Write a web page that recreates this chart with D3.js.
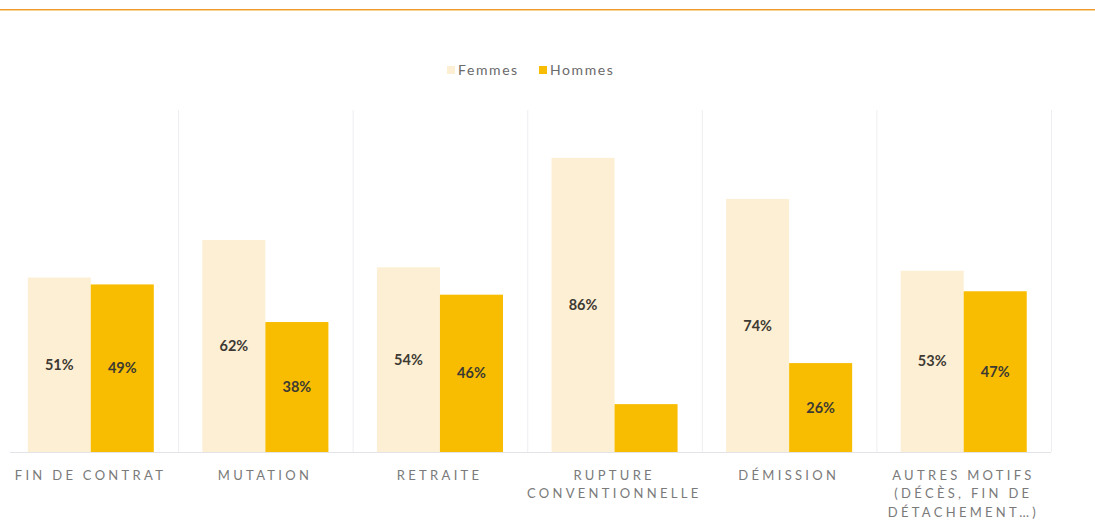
<!DOCTYPE html>
<html>
<head>
<meta charset="utf-8">
<script src="https://cdn.jsdelivr.net/npm/d3@7"></script>
<style>
  html, body { margin: 0; padding: 0; background: #fff; }
  svg { display: block; }
  text { font-family: Lato, "Open Sans", sans-serif; }
</style>
</head>
<body>
<svg id="chart" width="1095" height="521"></svg>
<script>
// Motifs de départ, répartition femmes / hommes (%)
const categories = [
  ["FIN DE CONTRAT"],
  ["MUTATION"],
  ["RETRAITE"],
  ["RUPTURE", "CONVENTIONNELLE"],
  ["DÉMISSION"],
  ["AUTRES MOTIFS", "(DÉCÈS, FIN DE", "DÉTACHEMENT…)"]
];
const seriesNames = ["Femmes", "Hommes"];
const femmes = [51, 62, 54, 86, 74, 53];
const hommes = [49, 38, 46, 14, 26, 47];
// the small share is left without a label
const hommesLabelled = [true, true, true, false, true, true];

const colors = { Femmes: "#FDEFD3", Hommes: "#F8BD00" };

const svg = d3.select("#chart");
const W = 1095, H = 521;
const plotLeft = 3.5, plotRight = 1051, plotTop = 110, plotBottom = 452;

// top rule
svg.append("rect").attr("x", 0).attr("y", 9).attr("width", W).attr("height", 1).attr("fill", "#EE9A2A");
svg.append("rect").attr("x", 0).attr("y", 10).attr("width", W).attr("height", 1).attr("fill", "#FAD596");

const keys = categories.map((c, i) => i);
const x = d3.scaleBand().domain(keys).range([plotLeft, plotRight]).paddingInner(0).paddingOuter(0);
const xs = d3.scaleBand().domain(seriesNames).range([0, x.bandwidth()]).paddingInner(0).paddingOuter(0.385);
const y = d3.scaleLinear().domain([0, 100]).range([plotBottom, plotTop]);

// vertical separators between categories
svg.append("g").selectAll("line")
  .data(keys.slice(1).concat([keys.length]))
  .join("line")
  .attr("x1", d => plotLeft + d * x.bandwidth() + 0.5)
  .attr("x2", d => plotLeft + d * x.bandwidth() + 0.5)
  .attr("y1", y(100)).attr("y2", plotBottom)
  .attr("stroke", "#EEEEF2").attr("stroke-width", 1);

const rows = keys.map(i => ({ i, values: [
  { s: "Femmes", v: femmes[i], show: true },
  { s: "Hommes", v: hommes[i], show: hommesLabelled[i] }
]}));

const groups = svg.append("g").selectAll("g")
  .data(rows).join("g")
  .attr("transform", d => `translate(${x(d.i)},0)`);

groups.selectAll("rect")
  .data(d => d.values).join("rect")
  .attr("x", d => xs(d.s))
  .attr("width", xs.bandwidth())
  .attr("y", d => y(d.v))
  .attr("height", d => plotBottom - y(d.v))
  .attr("fill", d => colors[d.s]);

groups.selectAll("text.val")
  .data(d => d.values.filter(v => v.show)).join("text")
  .attr("class", "val")
  .attr("x", d => xs(d.s) + xs.bandwidth() / 2)
  .attr("y", d => (y(d.v) + plotBottom) / 2)
  .attr("dy", "0.35em")
  .attr("text-anchor", "middle")
  .attr("font-size", 14.5)
  .attr("font-weight", 700)
  .attr("fill", "#3d3a33")
  .text(d => d.v + "%");

// baseline
svg.append("line")
  .attr("x1", 10).attr("x2", plotRight)
  .attr("y1", plotBottom + 0.5).attr("y2", plotBottom + 0.5)
  .attr("stroke", "#E4E4E8").attr("stroke-width", 1);

// category labels
const catSpacing = 3.3;
const xAxis = d3.axisBottom(x).tickSize(0).tickFormat("");
const axisG = svg.append("g").attr("transform", `translate(0,${plotBottom})`).call(xAxis);
axisG.select(".domain").remove();
axisG.selectAll(".tick").each(function(d) {
  const t = d3.select(this).append("text")
    .attr("text-anchor", "middle")
    .attr("fill", "#7a7a7a")
    .attr("font-size", 13)
    .attr("letter-spacing", catSpacing + "px")
    .attr("font-family", "Lato, 'Open Sans', sans-serif");
  categories[d].forEach((line, k) => {
    t.append("tspan").attr("x", catSpacing / 2 - 2).attr("y", 27.5 + k * 18.5).text(line);
  });
});

// legend
const legend = svg.append("g").attr("transform", "translate(447,70)");
const lx = [0, 92];
seriesNames.forEach((s, k) => {
  const g = legend.append("g").attr("transform", `translate(${lx[k]},0)`);
  g.append("rect").attr("x", 0).attr("y", -4).attr("width", 8).attr("height", 8).attr("fill", colors[s]);
  g.append("text").attr("x", 11).attr("y", 0).attr("dy", "0.35em")
    .attr("font-size", 14).attr("letter-spacing", "1.6px").attr("fill", "#6a6a6a").text(s);
});
</script>
</body>
</html>
